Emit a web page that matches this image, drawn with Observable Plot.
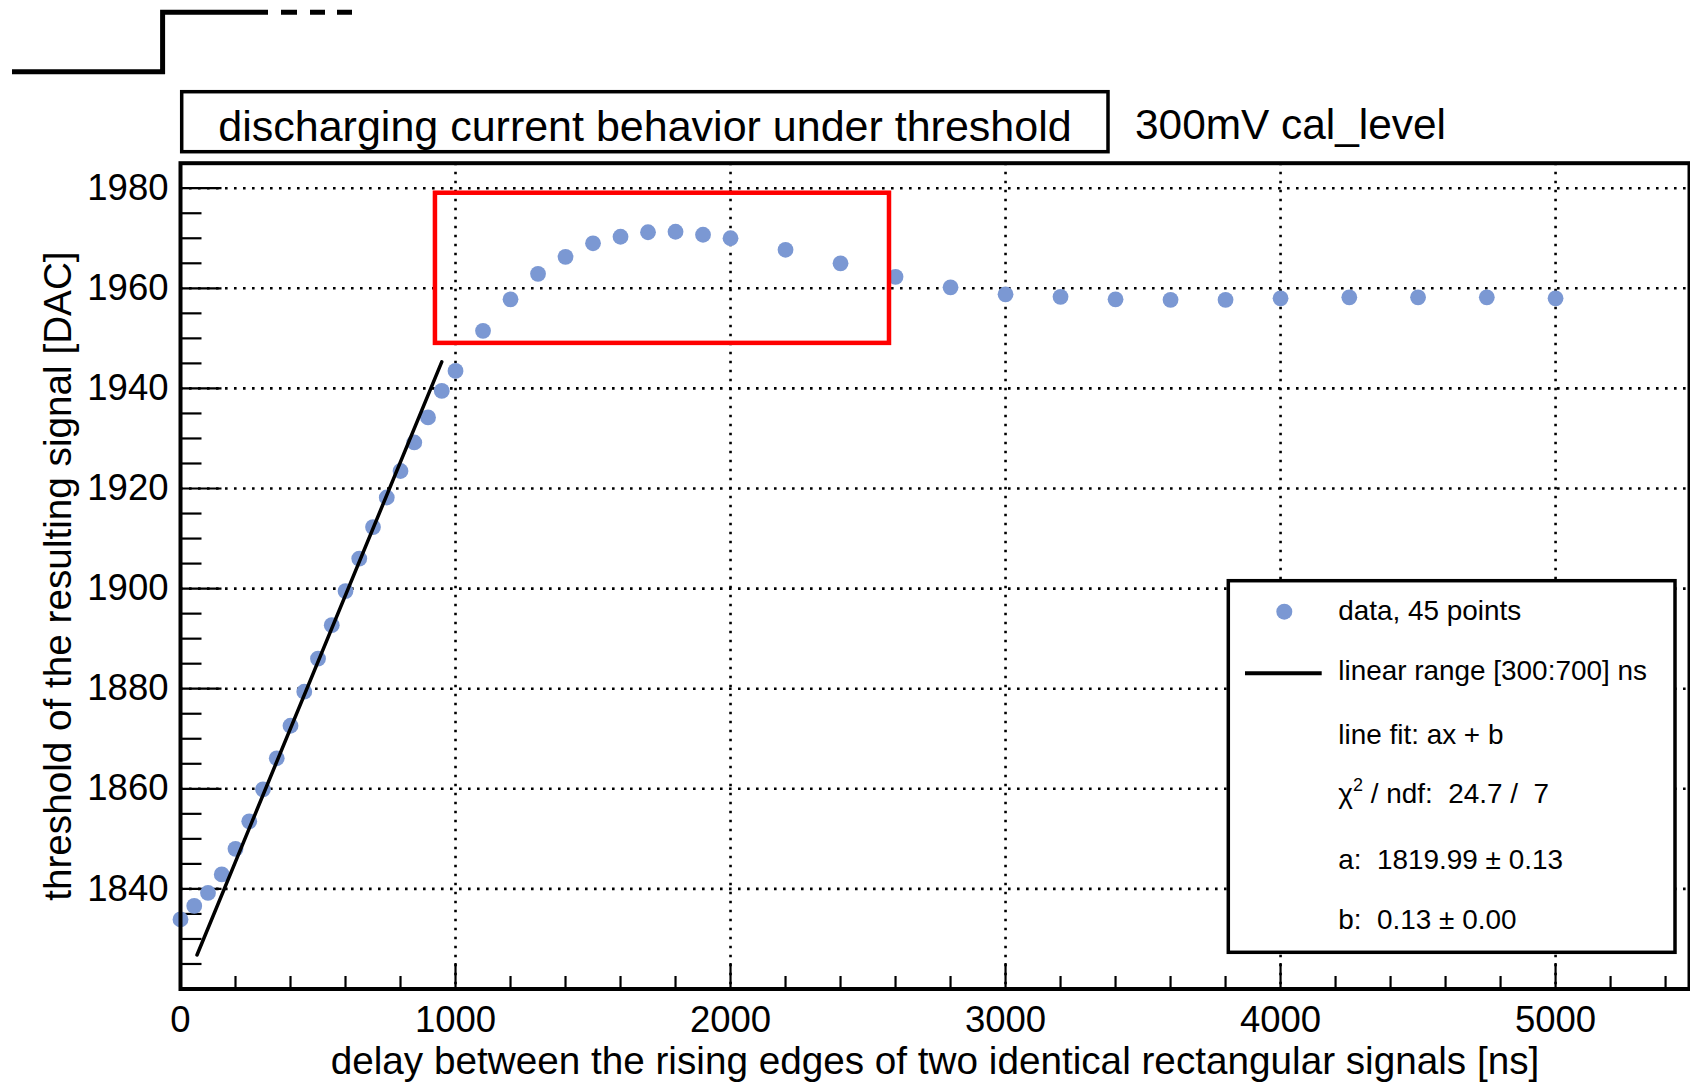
<!DOCTYPE html>
<html>
<head>
<meta charset="utf-8">
<script src="https://cdn.jsdelivr.net/npm/d3@7"></script>
<script src="https://cdn.jsdelivr.net/npm/@observablehq/plot@0.6"></script>
<style>
html, body { margin: 0; padding: 0; background: #fff; }
#chart { width: 1690px; height: 1083px; overflow: hidden; }
</style>
</head>
<body>
<div id="chart"></div>
<script>
// ---------- data ----------
const delays = [0, 50, 100, 150, 200, 250, 300, 350, 400, 450, 500, 550, 600, 650, 700, 750, 800, 850, 900, 950, 1000,
  1100, 1200, 1300, 1400, 1500, 1600, 1700, 1800, 1900, 2000,
  2200, 2400, 2600, 2800, 3000, 3200, 3400, 3600, 3800, 4000,
  4250, 4500, 4750, 5000];
const thresholds = [1833.9, 1836.6, 1839.2, 1842.9, 1848.0, 1853.5, 1859.9, 1866.1, 1872.6, 1879.4, 1886.0, 1892.7, 1899.5, 1906.0, 1912.3, 1918.2, 1923.5, 1929.2, 1934.2, 1939.5, 1943.5,
  1951.5, 1957.8, 1962.9, 1966.3, 1969.0, 1970.3, 1971.2, 1971.3, 1970.7, 1970.0,
  1967.7, 1965.0, 1962.3, 1960.2, 1958.8, 1958.3, 1957.8, 1957.7, 1957.7, 1958.0,
  1958.2, 1958.2, 1958.2, 1958.0];

// fitted line (end points as drawn)
const fitDelays = [60, 950];
const fitThresholds = [1826.8, 1945.3];

// highlighted region (red box)
const boxDelays = [927, 2578];
const boxThresholds = [1949, 1979];

// axes
const xDomain = [0, 5487];
const yDomain = [1820, 1985];
const xMajorTicks = [0, 1000, 2000, 3000, 4000, 5000];
const yMajorTicks = [1840, 1860, 1880, 1900, 1920, 1940, 1960, 1980];
const xMinorTicks = d3.range(200, 5487, 200).filter(d => d % 1000 !== 0);
const yMinorTicks = d3.range(1825, 1985, 5).filter(d => d % 20 !== 0);

// texts
const titleText = "discharging current behavior under threshold";
const subtitleText = "300mV cal_level";
const xTitle = "delay between the rising edges of two identical rectangular signals [ns]";
const yTitle = "threshold of the resulting signal [DAC]";
const legendData = "data, 45 points";
const legendFit = "linear range [300:700] ns";
const legendStats = ["line fit: ax + b", null, "a:  1819.99 \u00b1 0.13", "b:  0.13 \u00b1 0.00"];
const chiLabel = ["\u03c7", "2", " / ndf:  24.7 /  7"];

// ---------- chart ----------
const FONT = "'Liberation Sans', Arial, Helvetica, sans-serif";
const DOT = "#7b98d3";
const points = delays.map((d, i) => ({delay: d, threshold: thresholds[i]}));
const fitPoints = fitDelays.map((d, i) => ({delay: d, threshold: fitThresholds[i]}));
const tickShape = {draw(context, l) { context.moveTo(0, 0); context.lineTo(0, -l); }};
const grid = {stroke: "black", strokeOpacity: 1, strokeWidth: 2.6, strokeDasharray: "2.6,6.4"};
const tickStyle = {stroke: "black", strokeWidth: 2.2, strokeLinecap: "butt", anchor: "start", shape: tickShape};

const plot = Plot.plot({
  width: 1690,
  height: 1083,
  marginLeft: 180,
  marginRight: 1,
  marginTop: 162.7,
  marginBottom: 94.5,
  x: {domain: xDomain, axis: null},
  y: {domain: yDomain, axis: null},
  style: {fontFamily: FONT, background: "white", color: "black", overflow: "visible"},
  marks: [
    Plot.ruleX(xMajorTicks.filter(d => d > 0), grid),
    Plot.ruleY(yMajorTicks, grid),
    Plot.vector(xMinorTicks, {x: d => d, frameAnchor: "bottom", length: 13, rotate: 0, ...tickStyle}),
    Plot.vector(xMajorTicks, {x: d => d, frameAnchor: "bottom", length: 26, rotate: 0, ...tickStyle}),
    Plot.vector(yMinorTicks, {y: d => d, frameAnchor: "left", length: 21, rotate: 90, ...tickStyle}),
    Plot.vector(yMajorTicks, {y: d => d, frameAnchor: "left", length: 41, rotate: 90, ...tickStyle}),
    Plot.dot(points, {x: "delay", y: "threshold", r: 7.9, fill: DOT, stroke: "none"}),
    Plot.line(fitPoints, {x: "delay", y: "threshold", stroke: "black", strokeWidth: 3.5}),
    Plot.rect([0], {x1: () => boxDelays[0], x2: () => boxDelays[1], y1: () => boxThresholds[0], y2: () => boxThresholds[1],
      fill: "none", stroke: "#ff0000", strokeWidth: 4.5}),
    Plot.frame({stroke: "black", strokeWidth: 4}),
    Plot.text(xMajorTicks, {x: d => d, frameAnchor: "bottom", dy: 17.5, lineAnchor: "top", textAnchor: "middle",
      text: d => String(d), fontSize: 36.5, fill: "black"}),
    Plot.text(yMajorTicks, {y: d => d, frameAnchor: "left", dx: -12, textAnchor: "end", lineAnchor: "middle",
      text: d => String(d), fontSize: 36.5, fill: "black"}),
    Plot.text([xTitle], {frameAnchor: "bottom", dy: 72.4, lineAnchor: "middle", textAnchor: "middle",
      text: d => d, fontSize: 38.7, fill: "black"}),
    Plot.text([yTitle], {frameAnchor: "left", dx: -121.8, rotate: -90, lineAnchor: "middle", textAnchor: "middle",
      text: d => d, fontSize: 38.7, fill: "black"})
  ]
});

// ---------- decorations: step icon, title pave, legend ----------
const svg = d3.select(plot);
const deco = svg.append("g").attr("font-family", FONT).attr("fill", "black").attr("text-anchor", "start");

deco.append("path").attr("d", "M12,71.7H162.6V12.3H268")
  .attr("fill", "none").attr("stroke", "black").attr("stroke-width", 5).attr("stroke-linejoin", "miter");
deco.append("path").attr("d", "M281,12.3H297M310,12.3H325M337,12.3H352")
  .attr("fill", "none").attr("stroke", "black").attr("stroke-width", 5);

deco.append("rect").attr("x", 181.7).attr("y", 91.7).attr("width", 926.3).attr("height", 60)
  .attr("fill", "white").attr("stroke", "black").attr("stroke-width", 3.5);
deco.append("text").attr("x", 218.3).attr("y", 140.5).attr("font-size", 43).text(titleText);
deco.append("text").attr("x", 1135).attr("y", 139).attr("font-size", 42.4).text(subtitleText);

deco.append("rect").attr("x", 1228.3).attr("y", 580.7).attr("width", 446.7).attr("height", 371.6)
  .attr("fill", "white").attr("stroke", "black").attr("stroke-width", 3.5);
deco.append("circle").attr("cx", 1284.3).attr("cy", 611.7).attr("r", 8).attr("fill", DOT);
deco.append("line").attr("x1", 1245).attr("x2", 1321.7).attr("y1", 673.3).attr("y2", 673.3)
  .attr("stroke", "black").attr("stroke-width", 4);

const LX = 1338.3, LF = 27.9;
const rows = [
  {y: 620, t: legendData},
  {y: 680, t: legendFit},
  {y: 744, t: legendStats[0]},
  {y: 869, t: legendStats[2]},
  {y: 929, t: legendStats[3]}
];
rows.forEach(r => deco.append("text").attr("x", LX).attr("y", r.y).attr("font-size", LF)
  .style("white-space", "pre").text(r.t));
const chi = deco.append("text").attr("x", LX).attr("y", 803).attr("font-size", LF).style("white-space", "pre");
chi.append("tspan").text(chiLabel[0]);
chi.append("tspan").attr("dy", -12).attr("font-size", 18).text(chiLabel[1]);
chi.append("tspan").attr("dy", 12).text(chiLabel[2]);

document.getElementById("chart").appendChild(plot);
</script>
</body>
</html>
